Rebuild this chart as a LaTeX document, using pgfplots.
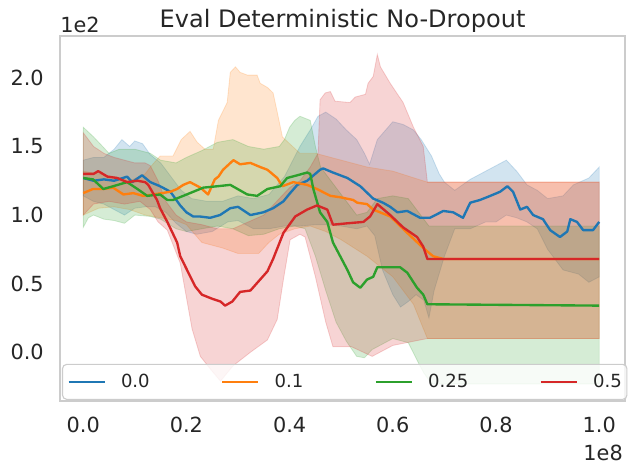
\documentclass[border=0pt]{standalone}
\usepackage{fontspec}
\setmainfont{DejaVu Sans}
\usepackage{pgfplots}
\pgfplotsset{compat=1.18}
\usepgfplotslibrary{fillbetween}
\definecolor{cblue}{HTML}{1F77B4}
\definecolor{corange}{HTML}{FF7F0E}
\definecolor{cgreen}{HTML}{2CA02C}
\definecolor{cred}{HTML}{D62728}
\definecolor{txt}{HTML}{262626}
\definecolor{spine}{HTML}{CCCCCC}
\begin{document}
\begin{tikzpicture}
\begin{axis}[
  scale only axis, width=406.8pt, height=262.8pt,
  xmin=-0.045, xmax=1.05, ymin=-0.355, ymax=2.305,
  axis line style={draw=spine, line width=0.9pt},
  major tick length=0pt,
  xtick={0,0.2,0.4,0.6,0.8,1.0}, xticklabels={0.0,0.2,0.4,0.6,0.8,1.0},
  ytick={0,0.5,1.0,1.5,2.0}, yticklabels={0.0,0.5,1.0,1.5,2.0},
  tick label style={font=\fontsize{15}{18}\selectfont, text=txt, inner sep=0pt},
  xticklabel style={anchor=north, yshift=-11.5pt},
  yticklabel style={anchor=east, xshift=-11.5pt},
  legend columns=4,
  legend image code/.code={\draw[#1] (0pt,0pt) -- (26pt,0pt);},
  legend style={at={(0.0035,0.003)}, anchor=south west, draw=spine, line width=0.8pt,
    fill=white, fill opacity=0.8, text opacity=1, draw opacity=1, rounded corners=3pt,
    inner xsep=3.6pt, inner ysep=7pt, font=\fontsize{13}{15}\selectfont, text=txt,
    nodes={inner sep=0pt},
    /tikz/every odd column/.style={column sep=10.8pt},
    /tikz/every even column/.style={column sep=51.4pt}},
  every axis plot/.append style={line join=round},
]
% ---------- bands ----------
\addplot[draw=none, name path=bu, forget plot] coordinates {(0,1.40) (0.02,1.42) (0.04,1.42) (0.06,1.48) (0.075,1.55) (0.09,1.50) (0.1,1.54) (0.115,1.52) (0.13,1.44) (0.15,1.38) (0.17,1.28) (0.19,1.18) (0.21,1.12) (0.24,1.10) (0.27,1.10) (0.3,1.14) (0.33,1.12) (0.36,1.15) (0.39,1.28) (0.42,1.50) (0.44,1.62) (0.455,1.72) (0.47,1.75) (0.49,1.70) (0.51,1.62) (0.53,1.55) (0.545,1.45) (0.555,1.37) (0.57,1.55) (0.6,1.68) (0.62,1.66) (0.64,1.62) (0.655,1.55) (0.675,1.43) (0.69,1.30) (0.70,1.24) (0.72,1.18) (0.75,1.26) (0.78,1.32) (0.8,1.36) (0.82,1.40) (0.84,1.32) (0.86,1.22) (0.88,1.18) (0.9,1.12) (0.93,1.14) (0.95,1.22) (0.98,1.27) (1.0,1.35)};
\addplot[draw=none, name path=bl, forget plot] coordinates {(0,1.14) (0.02,1.10) (0.04,1.08) (0.06,1.04) (0.08,1.00) (0.1,1.05) (0.12,1.06) (0.14,1.06) (0.16,1.02) (0.18,0.94) (0.2,0.88) (0.22,0.86) (0.25,0.88) (0.28,0.95) (0.3,0.96) (0.33,0.90) (0.36,0.90) (0.39,0.92) (0.42,0.92) (0.45,0.93) (0.47,0.93) (0.5,0.92) (0.53,0.90) (0.55,0.92) (0.565,0.85) (0.58,0.60) (0.6,0.42) (0.615,0.33) (0.63,0.37) (0.645,0.42) (0.66,0.38) (0.67,0.25) (0.68,0.45) (0.70,0.70) (0.72,0.90) (0.75,0.90) (0.78,0.95) (0.8,0.95) (0.82,1.00) (0.84,0.98) (0.86,0.95) (0.88,0.90) (0.9,0.75) (0.92,0.65) (0.93,0.60) (0.96,0.57) (0.98,0.51) (1.0,0.55)};
\addplot[fill=cblue, fill opacity=0.2, draw=cblue, draw opacity=0.2, line width=0.6pt, forget plot] fill between[of=bu and bl];

\addplot[draw=none, name path=ou, forget plot] coordinates {(0,1.32) (0.03,1.30) (0.06,1.28) (0.09,1.25) (0.12,1.30) (0.13,1.35) (0.149,1.43) (0.174,1.43) (0.19,1.55) (0.207,1.61) (0.221,1.53) (0.236,1.48) (0.252,1.48) (0.262,1.69) (0.279,1.82) (0.285,2.04) (0.295,2.08) (0.304,2.04) (0.318,2.02) (0.337,2.02) (0.343,1.96) (0.357,1.93) (0.368,1.89) (0.376,1.75) (0.386,1.57) (0.40,1.52) (0.42,1.45) (0.45,1.45) (0.5,1.40) (0.55,1.35) (0.6,1.32) (0.65,1.26) (0.667,1.24) (1.0,1.24)};
\addplot[draw=none, name path=ol, forget plot] coordinates {(0,1.00) (0.03,1.05) (0.06,1.06) (0.09,1.04) (0.12,1.00) (0.15,0.98) (0.18,0.96) (0.2,0.93) (0.23,0.80) (0.27,0.76) (0.3,0.72) (0.34,0.72) (0.36,0.80) (0.38,0.86) (0.41,0.90) (0.44,0.92) (0.47,0.88) (0.5,0.82) (0.55,0.70) (0.6,0.55) (0.64,0.35) (0.667,0.10) (1.0,0.10)};
\addplot[fill=corange, fill opacity=0.2, draw=corange, draw opacity=0.2, line width=0.6pt, forget plot] fill between[of=ou and ol];

\addplot[draw=none, name path=gu, forget plot] coordinates {(0,1.64) (0.02,1.57) (0.05,1.45) (0.07,1.48) (0.1,1.48) (0.13,1.45) (0.15,1.40) (0.18,1.38) (0.2,1.42) (0.23,1.47) (0.26,1.53) (0.29,1.55) (0.32,1.50) (0.35,1.48) (0.38,1.50) (0.39,1.55) (0.4,1.64) (0.41,1.69) (0.42,1.72) (0.44,1.69) (0.45,1.50) (0.46,1.35) (0.48,1.25) (0.5,1.15) (0.53,1.00) (0.55,1.02) (0.57,1.12) (0.6,1.14) (0.63,1.12) (0.65,1.02) (0.67,0.92) (1.0,0.92)};
\addplot[draw=none, name path=gl, forget plot] coordinates {(0,0.91) (0.01,0.98) (0.02,1.00) (0.04,0.97) (0.06,0.96) (0.08,0.94) (0.1,1.00) (0.13,0.99) (0.15,0.97) (0.18,0.90) (0.2,0.88) (0.23,0.90) (0.26,0.92) (0.29,0.90) (0.32,0.85) (0.35,0.86) (0.38,0.90) (0.41,0.92) (0.43,0.90) (0.45,0.70) (0.47,0.45) (0.49,0.22) (0.51,0.08) (0.53,-0.03) (0.545,-0.04) (0.56,0.02) (0.6,0.10) (0.63,0.07) (0.65,-0.08) (0.66,-0.15) (0.675,-0.23) (1.0,-0.23)};
\addplot[fill=cgreen, fill opacity=0.2, draw=cgreen, draw opacity=0.2, line width=0.6pt, forget plot] fill between[of=gu and gl];

\addplot[draw=none, name path=ru, forget plot] coordinates {(0,1.60) (0.02,1.50) (0.04,1.45) (0.06,1.42) (0.08,1.40) (0.1,1.38) (0.12,1.38) (0.13,1.36) (0.145,1.25) (0.16,1.10) (0.18,1.00) (0.2,0.95) (0.23,0.93) (0.26,0.90) (0.29,0.90) (0.32,0.95) (0.35,1.00) (0.38,1.12) (0.4,1.20) (0.42,1.25) (0.44,1.35) (0.455,1.45) (0.459,1.84) (0.469,1.89) (0.479,1.90) (0.488,1.83) (0.517,1.82) (0.527,1.86) (0.547,1.88) (0.552,1.96) (0.562,2.01) (0.57,2.17) (0.576,2.08) (0.595,1.96) (0.62,1.82) (0.64,1.64) (0.659,1.50) (0.667,1.24) (1.0,1.24)};
\addplot[draw=none, name path=rl, forget plot] coordinates {(0,1.00) (0.02,1.08) (0.05,1.10) (0.08,1.08) (0.11,1.10) (0.13,1.04) (0.145,0.95) (0.163,0.89) (0.188,0.65) (0.211,0.17) (0.227,-0.03) (0.246,-0.12) (0.266,-0.21) (0.29,-0.10) (0.324,0.00) (0.357,0.09) (0.376,0.24) (0.388,0.53) (0.401,0.82) (0.42,0.86) (0.43,0.84) (0.45,0.55) (0.47,0.22) (0.484,0.04) (0.52,0.04) (0.56,-0.03) (0.6,0.05) (0.64,0.08) (0.667,0.10) (1.0,0.10)};
\addplot[fill=cred, fill opacity=0.2, draw=cred, draw opacity=0.2, line width=0.6pt, forget plot] fill between[of=ru and rl];

% ---------- means ----------
\addplot[cblue, line width=1.7pt] coordinates {(0,1.27) (0.01,1.26) (0.02,1.25) (0.04,1.26) (0.06,1.25) (0.085,1.28) (0.095,1.24) (0.114,1.29) (0.13,1.24) (0.149,1.21) (0.169,1.17) (0.188,1.07) (0.2,1.02) (0.213,0.99) (0.225,0.99) (0.246,0.98) (0.265,1.00) (0.285,1.05) (0.3,1.06) (0.324,1.00) (0.349,1.02) (0.368,1.05) (0.388,1.10) (0.401,1.16) (0.415,1.22) (0.434,1.25) (0.459,1.33) (0.465,1.34) (0.484,1.31) (0.512,1.27) (0.537,1.21) (0.562,1.12) (0.581,1.09) (0.595,1.06) (0.609,1.02) (0.628,1.03) (0.653,0.98) (0.672,0.98) (0.698,1.03) (0.717,1.02) (0.736,0.98) (0.75,1.09) (0.769,1.11) (0.789,1.14) (0.808,1.17) (0.822,1.21) (0.833,1.17) (0.847,1.04) (0.86,1.06) (0.872,1.00) (0.891,0.97) (0.905,0.89) (0.924,0.84) (0.938,0.88) (0.944,0.97) (0.957,0.95) (0.969,0.89) (0.988,0.89) (1.0,0.95)};
\addlegendentry{0.0}
\addplot[corange, line width=1.7pt] coordinates {(0,1.16) (0.019,1.19) (0.039,1.19) (0.058,1.20) (0.078,1.15) (0.097,1.16) (0.116,1.14) (0.136,1.15) (0.169,1.17) (0.182,1.19) (0.194,1.22) (0.207,1.24) (0.227,1.20) (0.242,1.15) (0.255,1.26) (0.262,1.28) (0.271,1.33) (0.291,1.40) (0.304,1.37) (0.324,1.38) (0.343,1.35) (0.357,1.33) (0.376,1.27) (0.386,1.21) (0.407,1.24) (0.434,1.22) (0.453,1.19) (0.479,1.14) (0.498,1.13) (0.523,1.11) (0.531,1.09) (0.55,1.08) (0.562,1.04) (0.595,0.99) (0.628,0.87) (0.659,0.76) (0.678,0.70) (0.698,0.68) (1.0,0.68)};
\addlegendentry{0.1}
\addplot[cgreen, line width=1.7pt] coordinates {(0,1.27) (0.019,1.26) (0.039,1.19) (0.058,1.21) (0.085,1.24) (0.105,1.19) (0.124,1.14) (0.149,1.15) (0.163,1.11) (0.174,1.11) (0.194,1.14) (0.233,1.20) (0.26,1.21) (0.285,1.22) (0.318,1.15) (0.337,1.14) (0.357,1.19) (0.382,1.21) (0.395,1.27) (0.415,1.29) (0.434,1.31) (0.44,1.30) (0.446,1.19) (0.459,1.02) (0.473,0.95) (0.484,0.80) (0.498,0.70) (0.512,0.60) (0.523,0.51) (0.537,0.47) (0.55,0.53) (0.562,0.55) (0.57,0.62) (0.614,0.62) (0.628,0.58) (0.647,0.47) (0.659,0.42) (0.667,0.35) (1.0,0.34)};
\addlegendentry{0.25}
\addplot[cred, line width=1.7pt] coordinates {(0,1.30) (0.02,1.30) (0.029,1.32) (0.047,1.28) (0.066,1.27) (0.085,1.24) (0.105,1.25) (0.12,1.24) (0.126,1.22) (0.143,1.11) (0.149,1.05) (0.163,0.95) (0.182,0.80) (0.188,0.70) (0.217,0.48) (0.23,0.42) (0.25,0.39) (0.266,0.37) (0.275,0.34) (0.289,0.37) (0.304,0.44) (0.324,0.45) (0.357,0.59) (0.368,0.68) (0.388,0.87) (0.411,0.99) (0.434,1.04) (0.453,1.07) (0.473,1.04) (0.484,0.93) (0.512,0.94) (0.543,0.95) (0.556,0.99) (0.57,1.08) (0.595,1.00) (0.62,0.91) (0.647,0.84) (0.659,0.77) (0.667,0.68) (1.0,0.68)};
\addlegendentry{0.5}
\end{axis}
\node[anchor=base, text=txt, font=\fontsize{17.3}{20}\selectfont] at ([yshift=5.8pt]current axis.north) {Eval Deterministic No-Dropout};
\node[anchor=base west, text=txt, inner sep=0pt, font=\fontsize{15}{18}\selectfont] at ([yshift=2.2pt]current axis.north west) {1e2};
\node[anchor=base east, text=txt, inner sep=0pt, font=\fontsize{15}{18}\selectfont] at ([xshift=-1.4pt,yshift=-42.5pt]current axis.south east) {1e8};
\pgfresetboundingbox
\path ([shift={(-43.2pt,-52.56pt)}]current axis.south west) rectangle ([shift={(414pt,288.72pt)}]current axis.south west);
\end{tikzpicture}
\end{document}
